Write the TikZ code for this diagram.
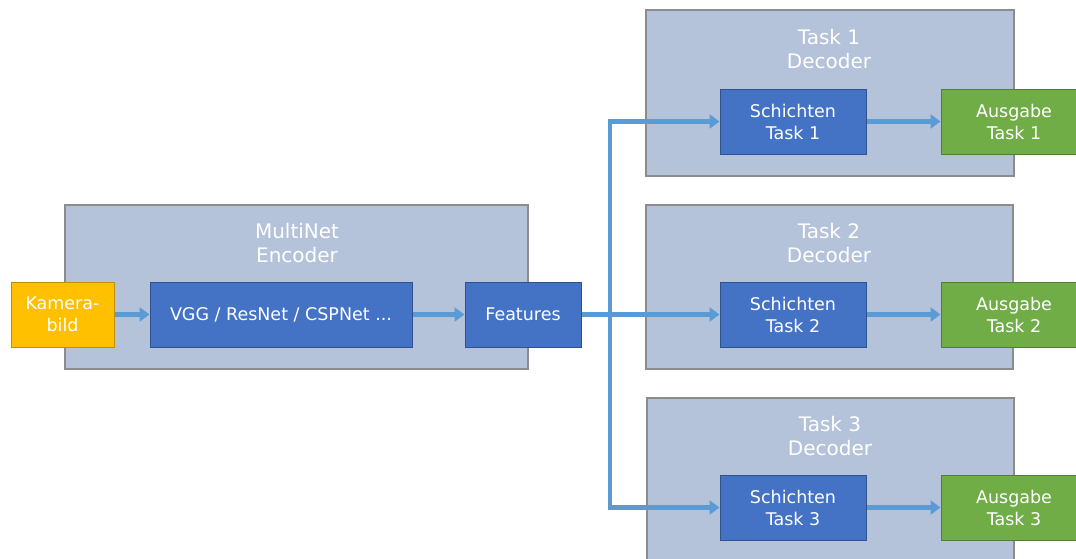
\documentclass[tikz,border=0pt]{standalone}
\usepackage{fontspec}
\setmainfont{DejaVu Sans}
\usetikzlibrary{arrows.meta}

\definecolor{groupbg}{RGB}{180,194,218}
\definecolor{groupline}{RGB}{140,140,140}
\definecolor{layerblue}{RGB}{68,114,196}
\definecolor{layerline}{RGB}{47,82,143}
\definecolor{camyellow}{RGB}{255,192,0}
\definecolor{camline}{RGB}{191,144,0}
\definecolor{outgreen}{RGB}{112,173,71}
\definecolor{outline}{RGB}{80,126,50}
\definecolor{flowblue}{RGB}{91,155,213}

\tikzset{
	groupbox/.style={draw=groupline, fill=groupbg, line width=1.2pt, inner sep=0pt},
	basebox/.style={text=white, line width=1pt, inner sep=0pt, align=center,
		minimum height=65pt, font=\fontsize{17.5}{22}\selectfont},
	layerbox/.style={basebox, draw=layerline, fill=layerblue},
	camerabox/.style={basebox, draw=camline, fill=camyellow},
	outbox/.style={basebox, draw=outline, fill=outgreen, minimum width=146pt},
	grouptitle/.style={text=white, align=center, font=\fontsize{20}{24}\selectfont},
	flow/.style={draw=flowblue, line width=4.5pt, -{Triangle[length=10pt,width=14pt]}}
}

\begin{document}
\begin{tikzpicture}[x=1pt,y=-1pt]
\useasboundingbox (0,0) rectangle (1076,558);
\clip (0,0) rectangle (1076,558);

% encoder / decoder groups
\node[groupbox, minimum width=463pt, minimum height=164pt] (enc) at (296.5,287) {};
\node[groupbox, minimum width=368pt, minimum height=166pt] (dec1) at (830,93) {};
\node[groupbox, minimum width=367pt, minimum height=164pt] (dec2) at (829.5,287) {};
\node[groupbox, minimum width=367pt, minimum height=164pt] (dec3) at (830.5,480) {};

\node[grouptitle] (tenc) at (297,243) {MultiNet\\Encoder};
\node[grouptitle] (t1) at (829,49) {Task 1\\Decoder};
\node[grouptitle] (t2) at (829,243) {Task 2\\Decoder};
\node[grouptitle] (t3) at (830,436) {Task 3\\Decoder};

% encoder
\node[camerabox, minimum width=103pt] (cam) at (62.5,314.5) {Kamera-\\bild};
\node[layerbox, minimum width=262pt] (vgg) at (281,314.5) {VGG / ResNet / CSPNet ...};
\node[layerbox, minimum width=116pt] (feat) at (523,314.5) {Features};

% decoders
\node[layerbox, minimum width=146pt] (s1) at (793,121.5) {Schichten\\Task 1};
\node[layerbox, minimum width=146pt] (s2) at (793,314.5) {Schichten\\Task 2};
\node[layerbox, minimum width=146pt] (s3) at (793,507.5) {Schichten\\Task 3};

\node[outbox] (o1) at (1014,121.5) {Ausgabe\\Task 1};
\node[outbox] (o2) at (1014,314.5) {Ausgabe\\Task 2};
\node[outbox] (o3) at (1014,507.5) {Ausgabe\\Task 3};

\coordinate (split) at (610,314.5);

\draw[flow] (cam) -- (vgg);
\draw[flow] (vgg) -- (feat);
\draw[flow] (feat) -- (s2);
\draw[flow] (split) |- (s1);
\draw[flow] (split) |- (s3);

\foreach \i in {1,2,3} {
	\draw[flow] (s\i) -- (o\i);
}
\end{tikzpicture}
\end{document}
